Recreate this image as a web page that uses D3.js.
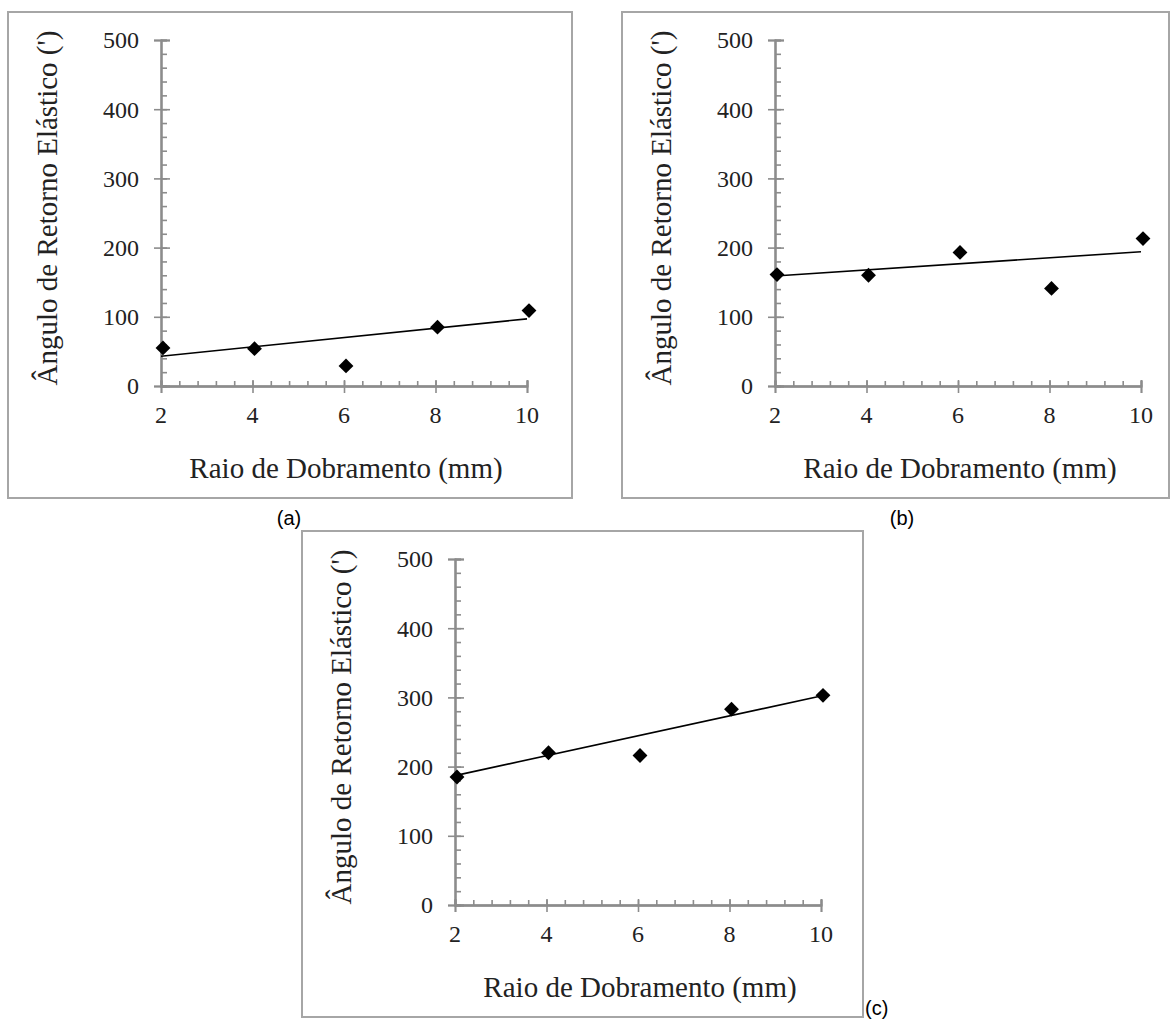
<!DOCTYPE html>
<html>
<head>
<meta charset="utf-8">
<script src="https://cdn.jsdelivr.net/npm/d3@7"></script>
<style>
	body { margin: 0; background: #fff; }
	svg { display: block; }
	.tickLabel { font-family: "Liberation Serif", "Times New Roman", serif; font-size: 24px; fill: #222; }
	.axisTitle { font-family: "Liberation Serif", "Times New Roman", serif; font-size: 29px; fill: #222; }
	.caption { font-family: "Liberation Sans", Arial, sans-serif; font-size: 20px; fill: #000; }
</style>
</head>
<body>
<div id="chart"></div>
<script>
"use strict"

// bending radius (mm) and springback angle
const radius = [2, 4, 6, 8, 10];
const springbackA = [55, 54, 29, 85, 109];
const springbackB = [161, 160, 193, 141, 213];
const springbackC = [185, 220, 216, 283, 303];

// trend line values at radius 2 and 10
const trendA = [43, 97];
const trendB = [159, 194];
const trendC = [187, 302];

const xTicks = [2, 4, 6, 8, 10];
const yTicks = [0, 100, 200, 300, 400, 500];
const captions = ["(a)", "(b)", "(c)"];

const xTitle = "Raio de Dobramento (mm)";
const yTitle = "Ângulo de Retorno Elástico (')";

let svg = d3.select("#chart").append("svg")
	.attr("width", 1171)
	.attr("height", 1025);

// box position of each panel
let panels = [
	{ left: 8, top: 12, width: 564, height: 486, cap: [289, 518, "middle"] },
	{ left: 622, top: 12, width: 547, height: 486, cap: [902, 518, "middle"] },
	{ left: 302, top: 531, width: 561, height: 486, cap: [865, 1008, "start"] },
];

function drawPanel(p, values, trend, caption) {
	let axisX = p.left + 153,
		zeroY = p.top + 374;

	let x = d3.scaleLinear().domain([2, 10]).range([axisX, axisX + 366]);
	let y = d3.scaleLinear().domain([0, 500]).range([zeroY, zeroY - 346]);

	svg.append("rect")
		.attr("x", p.left)
		.attr("y", p.top)
		.attr("width", p.width)
		.attr("height", p.height)
		.attr("fill", "none")
		.attr("stroke", "#a6a6a6")
		.attr("stroke-width", 2);

	let g = svg.append("g");

	// minor ticks, inside the plot
	g.append("g")
		.attr("transform", `translate(${axisX},0)`)
		.call(d3.axisLeft(y).tickValues(d3.range(0, 501, 20)).tickSize(-6).tickFormat(""));
	g.append("g")
		.attr("transform", `translate(0,${zeroY})`)
		.call(d3.axisBottom(x).tickValues(d3.range(2, 10.01, 0.4)).tickSize(-5).tickFormat(""));

	// major ticks crossing the axis
	g.append("g")
		.attr("transform", `translate(${axisX},0)`)
		.call(d3.axisLeft(y).tickValues(yTicks).tickSize(7).tickFormat(""));
	g.append("g")
		.attr("transform", `translate(${axisX},0)`)
		.call(d3.axisRight(y).tickValues(yTicks).tickSize(9).tickFormat(""));
	g.append("g")
		.attr("transform", `translate(0,${zeroY})`)
		.call(d3.axisBottom(x).tickValues(xTicks).tickSize(7).tickFormat(""));
	g.append("g")
		.attr("transform", `translate(0,${zeroY})`)
		.call(d3.axisTop(x).tickValues(xTicks).tickSize(6).tickFormat(""));

	g.selectAll(".domain").attr("stroke", "#8c8c8c").attr("stroke-width", 1.8);
	g.selectAll(".tick line").attr("stroke", "#8c8c8c").attr("stroke-width", 1.6);

	// tick labels
	g.selectAll(".yLabel")
		.data(yTicks)
		.enter().append("text")
			.attr("class", "tickLabel")
			.attr("x", axisX - 22)
			.attr("y", d => y(d))
			.attr("dy", "0.35em")
			.attr("text-anchor", "end")
			.text(d => d);

	g.selectAll(".xLabel")
		.data(xTicks)
		.enter().append("text")
			.attr("class", "tickLabel")
			.attr("x", d => x(d))
			.attr("y", zeroY + 29)
			.attr("dy", "0.35em")
			.attr("text-anchor", "middle")
			.text(d => d);

	// axis titles
	g.append("text")
		.attr("class", "axisTitle")
		.attr("x", axisX + 185)
		.attr("y", zeroY + 82)
		.attr("dy", "0.35em")
		.attr("text-anchor", "middle")
		.text(xTitle);

	g.append("text")
		.attr("class", "axisTitle")
		.attr("transform", `translate(${axisX - 114},${zeroY - 178}) rotate(-90)`)
		.attr("dy", "0.35em")
		.attr("text-anchor", "middle")
		.text(yTitle);

	// trend line
	g.append("line")
		.attr("x1", x(2))
		.attr("y1", y(trend[0]))
		.attr("x2", x(10))
		.attr("y2", y(trend[1]))
		.attr("stroke", "#000")
		.attr("stroke-width", 1.6);

	// diamond markers
	g.selectAll(".point")
		.data(radius.map((r, i) => ({ r: r, v: values[i] })))
		.enter().append("path")
			.attr("d", d3.symbol(d3.symbolSquare, 110))
			.attr("transform", d => `translate(${x(d.r) + 2},${y(d.v)}) rotate(45)`)
			.attr("fill", "#000");

	svg.append("text")
		.attr("class", "caption")
		.attr("x", p.cap[0])
		.attr("y", p.cap[1])
		.attr("dy", "0.35em")
		.attr("text-anchor", p.cap[2])
		.text(caption);
}

drawPanel(panels[0], springbackA, trendA, captions[0]);
drawPanel(panels[1], springbackB, trendB, captions[1]);
drawPanel(panels[2], springbackC, trendC, captions[2]);
</script>
</body>
</html>
